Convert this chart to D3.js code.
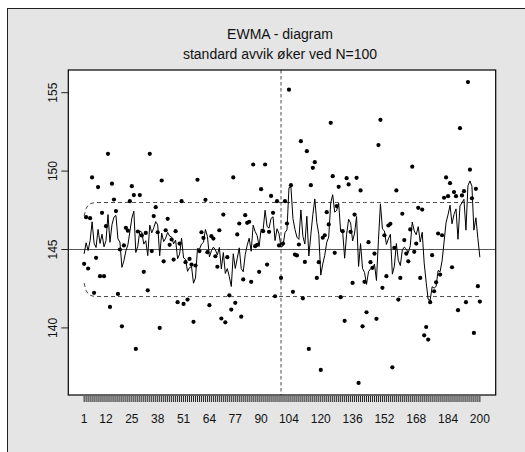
<!DOCTYPE html>
<html>
<head>
<meta charset="utf-8">
<script src="https://cdn.jsdelivr.net/npm/d3@7"></script>
<style>
  body { margin: 0; background: #fff; }
  text { font-family: "Liberation Sans", Arial, sans-serif; fill: #111; }
</style>
</head>
<body>
<div id="ewma-chart"></div>
<script>
(function(){

  // Observations, one per sample (N = 1..200)
  var obs = [
    144.09, 147.06, 143.79, 147.0, 149.6, 142.24, 144.47, 148.98, 143.3, 147.34,
    143.3, 146.49, 151.1, 141.34, 149.2, 148.19, 147.45, 142.17, 145.0, 140.1,
    145.26, 146.38, 146.2, 148.08, 149.04, 148.47, 138.66, 146.15, 148.47, 145.9,
    143.58, 146.06, 142.4, 151.1, 144.9, 147.13, 147.7, 146.1, 140.0, 149.4,
    144.25, 146.23, 146.96, 145.3, 145.64, 144.36, 146.17, 141.64, 145.38, 148.08,
    141.53, 144.19, 141.81, 144.4, 144.04, 140.39, 143.98, 149.45, 144.9, 146.1,
    145.74, 148.17, 144.83, 141.45, 145.85, 145.7, 144.57, 143.9, 146.23, 140.6,
    147.23, 140.36, 144.51, 142.08, 141.17, 149.6, 141.6, 145.96, 146.66, 140.72,
    143.09, 147.19, 146.7, 146.77, 142.94, 150.42, 145.21, 145.3, 143.58, 148.85,
    146.17, 150.42, 144.04, 146.13, 148.42, 147.34, 142.02, 148.08, 145.26, 143.19,
    145.38, 148.08, 146.66, 155.19, 149.1, 142.3, 144.68, 144.62, 145.32, 151.91,
    141.89, 144.21, 151.27, 138.66, 149.1, 150.21, 150.57, 143.19, 144.19, 137.32,
    145.75, 145.91, 147.38, 146.6, 153.08, 149.68, 144.79, 147.77, 149.0, 141.96,
    146.17, 140.45, 149.55, 149.15, 146.13, 142.87, 147.23, 149.57, 136.49, 148.77,
    140.1, 142.94, 141.0, 145.47, 144.19, 143.83, 144.74, 140.58, 151.66, 153.27,
    142.56, 145.91, 143.3, 146.53, 146.64, 137.49, 145.11, 148.77, 141.81, 143.19,
    147.28, 145.6, 144.74, 144.25, 146.28, 150.28, 144.85, 145.38, 147.66, 143.19,
    147.55, 139.53, 140.06, 139.26, 141.64, 144.64, 142.34, 142.91, 146.02, 143.4,
    145.91, 148.3, 149.6, 148.4, 149.23, 143.87, 148.66, 148.4, 141.13, 152.74,
    148.45, 148.72, 141.64, 155.68, 150.09, 148.27, 139.68, 148.87, 142.66, 141.68
  ];

  var xLabels = [1, 12, 25, 38, 51, 64, 77, 90, 104, 120, 136, 152, 168, 184, 200];
  var yTicks = [140, 145, 150, 155];
  var titleLines = ['EWMA - diagram', 'standard avvik øker ved N=100'];

  // EWMA settings
  var target = 145;
  var lambda = 0.3;
  var sigma = 2.38;
  var L = 3;
  var shiftAt = 100;

  var W = 525, H = 452;
  var box = { left: 68.3, top: 70, right: 495.7, bottom: 395 };

  var n = obs.length;
  var idx = d3.range(1, n + 1);

  // EWMA statistic and its (time varying) control limits
  var z = [];
  var prev = target;
  obs.forEach(function(v, i){
    prev = lambda * v + (1 - lambda) * prev;
    z.push([i + 1, prev]);
  });
  var limits = idx.map(function(i){
    var w = L * sigma * Math.sqrt(lambda / (2 - lambda) * (1 - Math.pow(1 - lambda, 2 * i)));
    return [i, target - w, target + w];
  });

  // R style 4% padding on both axes
  var xPad = 0.04 * (n - 1);
  var x = d3.scaleLinear()
        .domain([1 - xPad, n + xPad])
        .range([box.left, box.right]);
  var ext = d3.extent(obs);
  var yPad = 0.04 * (ext[1] - ext[0]);
  var y = d3.scaleLinear()
        .domain([ext[0] - yPad, ext[1] + yPad])
        .range([box.bottom, box.top]);

  var svg = d3.select('#ewma-chart')
        .append('svg')
          .attr('width', W)
          .attr('height', H);

  // grey figure panel
  svg.append('rect')
    .attr('x', 7.5).attr('y', 8.5)
    .attr('width', W).attr('height', H)
    .attr('fill', '#e5e5e5')
    .attr('stroke', '#222');

  svg.append('rect')
    .attr('x', box.left).attr('y', box.top)
    .attr('width', box.right - box.left)
    .attr('height', box.bottom - box.top)
    .attr('fill', '#fff');

  var plot = svg.append('g');

  // center line
  plot.append('line')
    .attr('x1', box.left).attr('x2', box.right)
    .attr('y1', y(target)).attr('y2', y(target))
    .attr('stroke', '#555')
    .attr('stroke-width', 1.2);

  // change point
  plot.append('line')
    .attr('x1', x(shiftAt)).attr('x2', x(shiftAt))
    .attr('y1', box.top).attr('y2', box.bottom)
    .attr('stroke', '#888')
    .attr('stroke-width', 1.5)
    .attr('stroke-dasharray', '3.5,2.5');

  // control limits
  var upper = d3.line()
        .x(function(d){ return x(d[0]); })
        .y(function(d){ return y(d[2]); });
  var lower = d3.line()
        .x(function(d){ return x(d[0]); })
        .y(function(d){ return y(d[1]); });

  [upper, lower].forEach(function(gen){
    plot.append('path')
      .datum(limits)
      .attr('d', gen)
      .attr('fill', 'none')
      .attr('stroke', '#444')
      .attr('stroke-width', 1)
      .attr('stroke-dasharray', '4,3');
  });

  // EWMA line
  plot.append('path')
    .datum(z)
    .attr('d', d3.line()
      .x(function(d){ return x(d[0]); })
      .y(function(d){ return y(d[1]); }))
    .attr('fill', 'none')
    .attr('stroke', '#000')
    .attr('stroke-width', 1);

  // observations
  plot.selectAll('circle')
    .data(obs)
    .enter().append('circle')
      .attr('cx', function(d, i){ return x(i + 1); })
      .attr('cy', function(d){ return y(d); })
      .attr('r', 2.1)
      .attr('fill', '#000');

  // plot border
  svg.append('rect')
    .attr('x', box.left).attr('y', box.top)
    .attr('width', box.right - box.left)
    .attr('height', box.bottom - box.top)
    .attr('fill', 'none')
    .attr('stroke', '#000')
    .attr('stroke-width', 1.2);

  // x axis: a tick for every sample, labels only where R kept them
  var xAxis = svg.append('g');
  xAxis.selectAll('line')
    .data(idx)
    .enter().append('line')
      .attr('x1', function(d){ return x(d); })
      .attr('x2', function(d){ return x(d); })
      .attr('y1', box.bottom + 1)
      .attr('y2', box.bottom + 7)
      .attr('stroke', '#222')
      .attr('stroke-width', 1);
  xAxis.selectAll('text')
    .data(xLabels)
    .enter().append('text')
      .attr('x', function(d){ return x(d); })
      .attr('y', 423)
      .attr('text-anchor', 'middle')
      .attr('font-size', '12px')
      .text(function(d){ return d; });

  // y axis
  var yAxis = svg.append('g');
  yAxis.selectAll('line')
    .data(yTicks)
    .enter().append('line')
      .attr('x1', box.left - 7).attr('x2', box.left)
      .attr('y1', function(d){ return y(d); })
      .attr('y2', function(d){ return y(d); })
      .attr('stroke', '#222');
  yAxis.selectAll('text')
    .data(yTicks)
    .enter().append('text')
      .attr('transform', function(d){ return 'translate(56.5,' + y(d) + ') rotate(-90)'; })
      .attr('text-anchor', 'middle')
      .attr('font-size', '12px')
      .text(function(d){ return d; });

  // titles
  svg.selectAll('.title')
    .data(titleLines)
    .enter().append('text')
      .attr('class', 'title')
      .attr('x', 280)
      .attr('y', function(d, i){ return 39 + i * 20; })
      .attr('text-anchor', 'middle')
      .attr('font-size', '14px')
      .text(function(d){ return d; });

})();
</script>
</body>
</html>
